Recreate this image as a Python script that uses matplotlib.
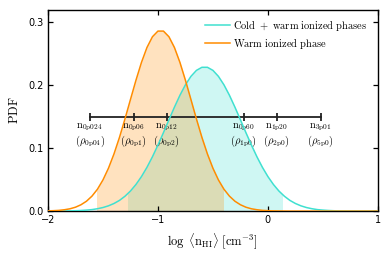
import numpy as np
import matplotlib
matplotlib.use("Agg")
import matplotlib.pyplot as plt
from matplotlib.patches import Rectangle

plt.rcParams['mathtext.fontset'] = 'cm'

# log density grid (step 0.05 from -2 to 1)
log_n = np.round(np.arange(-2.0, 1.0001, 0.05), 2)

# Warm ionized phase PDF (orange)
pdf_warm = [0.0004, 0.0007, 0.0012, 0.0022, 0.0037, 0.0062, 0.0101, 0.0157, 0.0238, 0.0348,
            0.0495, 0.0681, 0.0907, 0.1170, 0.1463, 0.1772, 0.2078, 0.2361, 0.2598, 0.2769,
            0.2859, 0.2859, 0.2769, 0.2598, 0.2361, 0.2078, 0.1772, 0.1463, 0.1170, 0.0907,
            0.0681, 0.0495, 0.0348, 0.0238, 0.0157, 0.0101, 0.0062, 0.0037, 0.0022, 0.0012,
            0.0007, 0.0004, 0.0002, 0.0001, 0.0000, 0.0000, 0.0000, 0.0000, 0.0000, 0.0000,
            0.0000, 0.0000, 0.0000, 0.0000, 0.0000, 0.0000, 0.0000, 0.0000, 0.0000, 0.0000,
            0.0000]

# Cold + warm ionized phases PDF (cyan)
pdf_cold_warm = [0.0000, 0.0001, 0.0001, 0.0002, 0.0004, 0.0006, 0.0010, 0.0016, 0.0024, 0.0038,
                 0.0057, 0.0084, 0.0121, 0.0170, 0.0236, 0.0319, 0.0423, 0.0548, 0.0695, 0.0863,
                 0.1049, 0.1246, 0.1450, 0.1651, 0.1840, 0.2006, 0.2140, 0.2235, 0.2284, 0.2284,
                 0.2235, 0.2140, 0.2006, 0.1840, 0.1651, 0.1450, 0.1246, 0.1049, 0.0863, 0.0695,
                 0.0548, 0.0423, 0.0319, 0.0236, 0.0170, 0.0121, 0.0084, 0.0057, 0.0038, 0.0024,
                 0.0016, 0.0010, 0.0006, 0.0003, 0.0002, 0.0001, 0.0001, 0.0000, 0.0000, 0.0000,
                 0.0000]

# shaded ranges
warm_range = [-1.555, -0.406]
cold_warm_range = [-1.27, 0.124]

# density markers on the bar
marker_n = [0.024, 0.06, 0.12, 0.60, 1.20, 3.01]
marker_n_labels = ['0p024', '0p06', '0p12', '0p60', '1p20', '3p01']
marker_rho_labels = ['0p04', '0p1', '0p2', '1p0', '2p0', '5p0']
bar_level = 0.15

labels = ['Cold + warm ionized phases', 'Warm ionized phase']
c_cyan = '#40E0D0'
c_orange = '#FF8C00'

fig = plt.figure(figsize=(3.9, 2.6), dpi=100)
ax = fig.add_axes([0.123, 0.188, 0.846, 0.775])

# fills, clipped to their ranges
for pdf, rng, col in [(pdf_cold_warm, cold_warm_range, c_cyan), (pdf_warm, warm_range, c_orange)]:
    poly = ax.fill_between(log_n, 0, pdf, color=col, alpha=0.25, lw=0, zorder=1)
    rect = Rectangle((rng[0], -1), rng[1] - rng[0], 3, transform=ax.transData)
    poly.set_clip_path(rect)

# bar with markers
xm = np.log10(marker_n)
ax.plot(xm, [bar_level] * len(xm), color='#222222', lw=1.3, marker='|', ms=6, mew=1.3, zorder=2)
for x, nl, rl in zip(xm, marker_n_labels, marker_rho_labels):
    ax.text(x, bar_level - 0.0178, r'$\mathrm{n_{%s}}$' % nl, ha='center', va='baseline', fontsize=7.5, zorder=3)
    ax.text(x, bar_level - 0.043, r'$(\rho_{\mathrm{%s}})$' % rl, ha='center', va='baseline', fontsize=7.5, zorder=3)

ax.plot(log_n, pdf_cold_warm, color=c_cyan, lw=1.1, label=r'$\mathrm{Cold\ +\ warm\ ionized\ phases}$', zorder=4)
ax.plot(log_n, pdf_warm, color=c_orange, lw=1.1, label=r'$\mathrm{Warm\ ionized\ phase}$', zorder=4)

ax.set_xlim(-2, 1)
ax.set_ylim(0, 0.32)
ax.set_xticks([-2, -1, 0, 1])
ax.set_yticks([0.0, 0.1, 0.2, 0.3])
ax.tick_params(direction='in', length=3.6, width=0.9, labelsize=7, top=True, right=True, pad=3)
for s in ax.spines.values():
    s.set_linewidth(1.0)

ax.set_ylabel(r'$\mathrm{PDF}$', fontsize=9, labelpad=5)
ax.set_xlabel(r'$\log\ \langle \mathrm{n_{HI}} \rangle\ [\mathrm{cm^{-3}}]$', fontsize=9, labelpad=5)

ax.legend(loc='upper right', frameon=False, fontsize=7.5, handlelength=2.4, handletextpad=0.35,
          labelspacing=0.35, borderaxespad=0.3, bbox_to_anchor=(0.99, 0.99))

fig.savefig('out.png', dpi=100)
